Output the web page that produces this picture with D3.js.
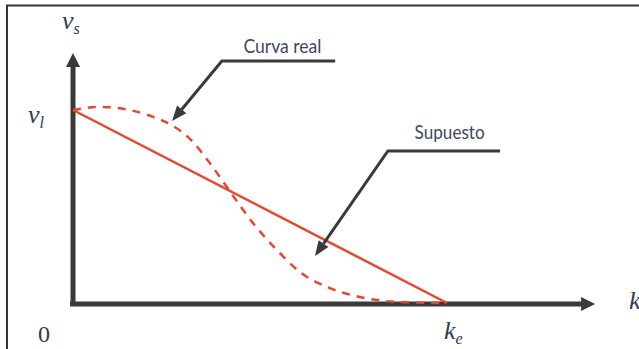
<!DOCTYPE html>
<html>
<head>
<meta charset="utf-8">
<script src="https://cdn.jsdelivr.net/npm/d3@7"></script>
<style>
  body { margin: 0; background: #fff; }
  svg { display: block; }
  .ann { font-family: Lato, "Open Sans", sans-serif; font-size: 19px; fill: #3d4862; }
  .math { font-family: "Liberation Serif", "DejaVu Serif", serif; font-style: italic; fill: #2f3a55; }
</style>
</head>
<body>
<script>
var w = 639;
var h = 349;

// supposed (linear) relation between k and v_s, and the real curve
var supuesto = [
  {k: 0, v: 1},
  {k: 1, v: 0}
];

var curvaReal = [
  {k: 0.000, v: 1.000},
  {k: 0.072, v: 1.016},
  {k: 0.144, v: 1.003},
  {k: 0.214, v: 0.964},
  {k: 0.267, v: 0.918},
  {k: 0.321, v: 0.834},
  {k: 0.358, v: 0.745},
  {k: 0.401, v: 0.630},
  {k: 0.428, v: 0.555},
  {k: 0.481, v: 0.415},
  {k: 0.545, v: 0.275},
  {k: 0.607, v: 0.160},
  {k: 0.679, v: 0.083},
  {k: 0.767, v: 0.031},
  {k: 0.874, v: 0.005},
  {k: 1.000, v: 0.000}
];

// label text
var axisNames = {x: "k", y: "v", ySub: "s"};
var xTickLabels = [{k: 0, text: "0", sub: ""}, {k: 1, text: "k", sub: "e"}];
var yTickLabels = [{v: 1, text: "v", sub: "l"}];

// callouts: tip, elbow, end of the leader line (data units)
var callouts = [
  {text: "Curva real", tip: [0.265, 0.943], elbow: [0.398, 1.254], end: [0.701, 1.254], at: [0.56, 1.295], len: 78},
  {text: "Supuesto",   tip: [0.647, 0.244], elbow: [0.842, 0.788], end: [1.142, 0.788], at: [1.007, 0.850], len: 70}
];

var svg = d3.select("body")
    .append("svg")
    .attr("width", w)
    .attr("height", h);

// frame
svg.append("path")
    .attr("d", "M7," + h + " V5.5 H" + w)
    .attr("fill", "none")
    .attr("stroke", "#333")
    .attr("stroke-width", 2);

var xScale = d3.scaleLinear()
    .domain([0, 1])
    .range([73, 447]);

var yScale = d3.scaleLinear()
    .domain([0, 1])
    .range([303, 110]);

var xMax = 1.396;
var yMax = 1.295;
var axisColor = "#3a3a3a";
var red = "#e8472f";

// axes
svg.append("line")
    .attr("x1", xScale(0) - 3)
    .attr("y1", yScale(0) + 1)
    .attr("x2", xScale(xMax) - 12)
    .attr("y2", yScale(0) + 1)
    .attr("stroke", axisColor)
    .attr("stroke-width", 5);

svg.append("path")
    .attr("d", "M" + xScale(xMax) + "," + (yScale(0) + 1) +
      " L" + (xScale(xMax) - 14) + "," + (yScale(0) - 6) +
      " L" + (xScale(xMax) - 14) + "," + (yScale(0) + 8) + "Z")
    .attr("fill", axisColor);

svg.append("line")
    .attr("x1", xScale(0))
    .attr("y1", yScale(0) + 3)
    .attr("x2", xScale(0))
    .attr("y2", yScale(yMax) + 12)
    .attr("stroke", axisColor)
    .attr("stroke-width", 5);

svg.append("path")
    .attr("d", "M" + xScale(0) + "," + yScale(yMax) +
      " L" + (xScale(0) - 7) + "," + (yScale(yMax) + 14) +
      " L" + (xScale(0) + 7) + "," + (yScale(yMax) + 14) + "Z")
    .attr("fill", axisColor);

var line = d3.line()
    .x(function(d) { return xScale(d.k); })
    .y(function(d) { return yScale(d.v); });

svg.append("path")
    .datum(curvaReal)
    .attr("d", line.curve(d3.curveMonotoneX))
    .attr("fill", "none")
    .attr("stroke", red)
    .attr("stroke-width", 2.5)
    .attr("stroke-dasharray", "8,7");

svg.append("path")
    .datum(supuesto)
    .attr("d", line.curve(d3.curveLinear))
    .attr("fill", "none")
    .attr("stroke", red)
    .attr("stroke-width", 2.5);

// callouts
callouts.forEach(function(c) {
  var tx = xScale(c.tip[0]), ty = yScale(c.tip[1]);
  var ex = xScale(c.elbow[0]), ey = yScale(c.elbow[1]);
  var ang = Math.atan2(ey - ty, ex - tx);
  var hl = 15, hw = 6;
  var bx = tx + hl * Math.cos(ang), by = ty + hl * Math.sin(ang);

  svg.append("polyline")
      .attr("points", [[xScale(c.end[0]), ey], [ex, ey], [bx, by]].join(" "))
      .attr("fill", "none")
      .attr("stroke", axisColor)
      .attr("stroke-width", 3);

  svg.append("path")
      .attr("d", "M" + tx + "," + ty +
        " L" + (bx + hw * Math.sin(ang)) + "," + (by - hw * Math.cos(ang)) +
        " L" + (bx - hw * Math.sin(ang)) + "," + (by + hw * Math.cos(ang)) + "Z")
      .attr("fill", axisColor);

  svg.append("text")
      .attr("class", "ann")
      .attr("text-anchor", "middle")
      .attr("x", xScale(c.at[0]))
      .attr("y", yScale(c.at[1]))
      .attr("textLength", c.len)
      .attr("lengthAdjust", "spacingAndGlyphs")
      .text(c.text);
});

function mathLabel(x, y, t, sub, size) {
  var txt = svg.append("text")
      .attr("class", "math")
      .attr("x", x)
      .attr("y", y)
      .style("font-size", size + "px")
      .text(t);
  if (sub) {
    txt.append("tspan")
        .attr("dy", 5)
        .style("font-size", (size * 0.62) + "px")
        .text(sub);
  }
}

// axis names
mathLabel(xScale(xMax) + 34, yScale(0) + 6, axisNames.x, "", 26);
mathLabel(xScale(0) - 11, yScale(yMax) - 24, axisNames.y, axisNames.ySub, 26);

// tick labels
xTickLabels.forEach(function(d) {
  if (d.sub) mathLabel(xScale(d.k) - 3, 339, d.text, d.sub, 26);
  else svg.append("text")
      .attr("class", "math")
      .style("font-style", "normal")
      .style("font-size", "24px")
      .attr("x", xScale(d.k) - 35)
      .attr("y", 342)
      .text(d.text);
});

yTickLabels.forEach(function(d) {
  mathLabel(xScale(0) - 45, yScale(d.v) + 13, d.text, d.sub, 26);
});
</script>
</body>
</html>
